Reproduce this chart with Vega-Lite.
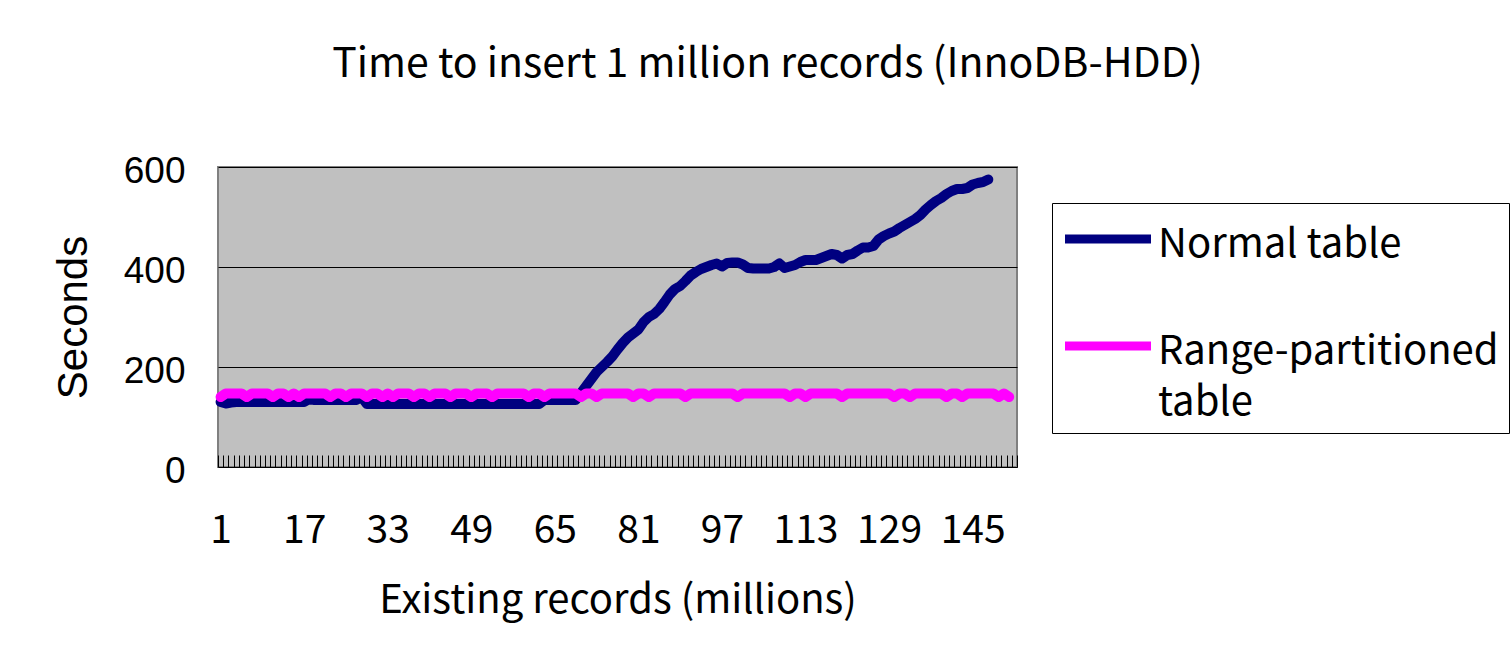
{
  "$schema": "https://vega.github.io/schema/vega-lite/v6.json",
  "width": 799,
  "height": 300,
  "autosize": "none",
  "padding": {"left": 218, "top": 167, "right": 495, "bottom": 193},
  "background": "white",
  "title": {"text": "Time to insert 1 million records (InnoDB-HDD)", "font": "Noto Sans CJK JP", "fontSize": 41, "fontWeight": "normal", "color": "black", "anchor": "middle", "dx": 150, "offset": 66},
  "config": {"view": {"fill": "#C0C0C0", "stroke": "#808080", "strokeWidth": 2}},
  "data": {"values": [
    {"x":1,"normal":130,"range":140},{"x":2,"normal":127,"range":147},{"x":3,"normal":129,"range":147},{"x":4,"normal":130,"range":147},{"x":5,"normal":130,"range":147},
    {"x":6,"normal":130,"range":140},{"x":7,"normal":130,"range":147},{"x":8,"normal":130,"range":147},{"x":9,"normal":130,"range":147},{"x":10,"normal":130,"range":147},
    {"x":11,"normal":130,"range":140},{"x":12,"normal":130,"range":147},{"x":13,"normal":130,"range":147},{"x":14,"normal":130,"range":140},{"x":15,"normal":130,"range":147},
    {"x":16,"normal":130,"range":140},{"x":17,"normal":130,"range":147},{"x":18,"normal":136,"range":147},{"x":19,"normal":134,"range":147},{"x":20,"normal":134,"range":147},
    {"x":21,"normal":134,"range":147},{"x":22,"normal":134,"range":140},{"x":23,"normal":134,"range":147},{"x":24,"normal":134,"range":147},{"x":25,"normal":134,"range":140},
    {"x":26,"normal":134,"range":147},{"x":27,"normal":134,"range":147},{"x":28,"normal":140,"range":147},{"x":29,"normal":126,"range":140},{"x":30,"normal":126,"range":147},
    {"x":31,"normal":126,"range":147},{"x":32,"normal":126,"range":140},{"x":33,"normal":126,"range":147},{"x":34,"normal":126,"range":140},{"x":35,"normal":126,"range":147},
    {"x":36,"normal":126,"range":147},{"x":37,"normal":126,"range":147},{"x":38,"normal":126,"range":140},{"x":39,"normal":126,"range":147},{"x":40,"normal":126,"range":147},
    {"x":41,"normal":126,"range":140},{"x":42,"normal":126,"range":147},{"x":43,"normal":126,"range":147},{"x":44,"normal":126,"range":147},{"x":45,"normal":126,"range":140},
    {"x":46,"normal":126,"range":147},{"x":47,"normal":126,"range":147},{"x":48,"normal":126,"range":147},{"x":49,"normal":126,"range":140},{"x":50,"normal":126,"range":147},
    {"x":51,"normal":126,"range":147},{"x":52,"normal":126,"range":147},{"x":53,"normal":126,"range":140},{"x":54,"normal":126,"range":147},{"x":55,"normal":126,"range":147},
    {"x":56,"normal":126,"range":147},{"x":57,"normal":126,"range":147},{"x":58,"normal":126,"range":147},{"x":59,"normal":126,"range":147},{"x":60,"normal":126,"range":140},
    {"x":61,"normal":126,"range":147},{"x":62,"normal":126,"range":147},{"x":63,"normal":134,"range":140},{"x":64,"normal":134,"range":147},{"x":65,"normal":134,"range":147},
    {"x":66,"normal":134,"range":147},{"x":67,"normal":134,"range":147},{"x":68,"normal":134,"range":147},{"x":69,"normal":134,"range":147},{"x":70,"normal":148,"range":140},
    {"x":71,"normal":162,"range":147},{"x":72,"normal":176,"range":147},{"x":73,"normal":190,"range":140},{"x":74,"normal":200,"range":147},{"x":75,"normal":210,"range":147},
    {"x":76,"normal":221,"range":147},{"x":77,"normal":235,"range":147},{"x":78,"normal":248,"range":147},{"x":79,"normal":259,"range":147},{"x":80,"normal":267,"range":140},
    {"x":81,"normal":275,"range":147},{"x":82,"normal":290,"range":147},{"x":83,"normal":300,"range":140},{"x":84,"normal":306,"range":147},{"x":85,"normal":316,"range":147},
    {"x":86,"normal":330,"range":147},{"x":87,"normal":345,"range":147},{"x":88,"normal":356,"range":147},{"x":89,"normal":362,"range":147},{"x":90,"normal":372,"range":140},
    {"x":91,"normal":383,"range":147},{"x":92,"normal":390,"range":147},{"x":93,"normal":396,"range":147},{"x":94,"normal":400,"range":147},{"x":95,"normal":404,"range":147},
    {"x":96,"normal":407,"range":147},{"x":97,"normal":401,"range":147},{"x":98,"normal":408,"range":147},{"x":99,"normal":409,"range":147},{"x":100,"normal":409,"range":140},
    {"x":101,"normal":405,"range":147},{"x":102,"normal":398,"range":147},{"x":103,"normal":397,"range":147},{"x":104,"normal":397,"range":147},{"x":105,"normal":397,"range":147},
    {"x":106,"normal":397,"range":147},{"x":107,"normal":400,"range":147},{"x":108,"normal":407,"range":147},{"x":109,"normal":398,"range":147},{"x":110,"normal":401,"range":140},
    {"x":111,"normal":404,"range":147},{"x":112,"normal":410,"range":147},{"x":113,"normal":414,"range":140},{"x":114,"normal":414,"range":147},{"x":115,"normal":414,"range":147},
    {"x":116,"normal":418,"range":147},{"x":117,"normal":422,"range":147},{"x":118,"normal":426,"range":147},{"x":119,"normal":424,"range":147},{"x":120,"normal":417,"range":140},
    {"x":121,"normal":424,"range":147},{"x":122,"normal":426,"range":147},{"x":123,"normal":433,"range":147},{"x":124,"normal":439,"range":147},{"x":125,"normal":439,"range":147},
    {"x":126,"normal":442,"range":147},{"x":127,"normal":455,"range":147},{"x":128,"normal":462,"range":147},{"x":129,"normal":467,"range":147},{"x":130,"normal":471,"range":140},
    {"x":131,"normal":478,"range":147},{"x":132,"normal":484,"range":147},{"x":133,"normal":490,"range":140},{"x":134,"normal":496,"range":147},{"x":135,"normal":504,"range":147},
    {"x":136,"normal":515,"range":147},{"x":137,"normal":524,"range":147},{"x":138,"normal":532,"range":147},{"x":139,"normal":538,"range":147},{"x":140,"normal":546,"range":140},
    {"x":141,"normal":552,"range":147},{"x":142,"normal":556,"range":147},{"x":143,"normal":556,"range":140},{"x":144,"normal":558,"range":147},{"x":145,"normal":565,"range":147},
    {"x":146,"normal":568,"range":147},{"x":147,"normal":570,"range":147},{"x":148,"normal":575,"range":147},{"x":149,"range":147},{"x":150,"range":140},
    {"x":151,"range":147},{"x":152,"range":140}
  ]},
  "transform": [
    {"fold": ["normal", "range"], "as": ["key", "seconds"]},
    {"filter": "isValid(datum.seconds)"},
    {"lookup": "key", "from": {"data": {"values": [{"key": "normal", "series": "Normal table"}, {"key": "range", "series": "Range-partitioned table"}]}, "key": "key", "fields": ["series"]}}
  ],
  "mark": {"type": "line", "strokeWidth": 10, "strokeCap": "round", "strokeJoin": "round"},
  "encoding": {
    "x": {
      "field": "x", "type": "quantitative",
      "scale": {"domain": [0.5, 153.5], "nice": false, "zero": false},
      "axis": {
        "values": [1,17,33,49,65,81,97,113,129,145,0.5,1.5,2.5,3.5,4.5,5.5,6.5,7.5,8.5,9.5,10.5,11.5,12.5,13.5,14.5,15.5,16.5,17.5,18.5,19.5,20.5,21.5,22.5,23.5,24.5,25.5,26.5,27.5,28.5,29.5,30.5,31.5,32.5,33.5,34.5,35.5,36.5,37.5,38.5,39.5,40.5,41.5,42.5,43.5,44.5,45.5,46.5,47.5,48.5,49.5,50.5,51.5,52.5,53.5,54.5,55.5,56.5,57.5,58.5,59.5,60.5,61.5,62.5,63.5,64.5,65.5,66.5,67.5,68.5,69.5,70.5,71.5,72.5,73.5,74.5,75.5,76.5,77.5,78.5,79.5,80.5,81.5,82.5,83.5,84.5,85.5,86.5,87.5,88.5,89.5,90.5,91.5,92.5,93.5,94.5,95.5,96.5,97.5,98.5,99.5,100.5,101.5,102.5,103.5,104.5,105.5,106.5,107.5,108.5,109.5,110.5,111.5,112.5,113.5,114.5,115.5,116.5,117.5,118.5,119.5,120.5,121.5,122.5,123.5,124.5,125.5,126.5,127.5,128.5,129.5,130.5,131.5,132.5,133.5,134.5,135.5,136.5,137.5,138.5,139.5,140.5,141.5,142.5,143.5,144.5,145.5,146.5,147.5,148.5,149.5,150.5,151.5,152.5,153.5],
        "labelExpr": "datum.value % 1 == 0 ? datum.label : ''",
        "tickOpacity": {"condition": {"test": "datum.value % 1 != 0", "value": 1}, "value": 0},
        "tickSize": -12,
        "tickColor": "black",
        "tickWidth": 1,
        "domain": false,
        "grid": false,
        "labelOverlap": false,
        "labelFlush": false,
        "labelFont": "Noto Sans CJK JP",
        "labelFontSize": 39,
        "labelColor": "black",
        "labelPadding": 56,
        "title": "Existing records (millions)",
        "titleFont": "Noto Sans CJK JP",
        "titleFontSize": 40,
        "titleFontWeight": "normal",
        "titleColor": "black",
        "titlePadding": 30
      }
    },
    "y": {
      "field": "seconds", "type": "quantitative",
      "scale": {"domain": [0, 600], "nice": false},
      "axis": {
        "values": [0, 200, 400, 600],
        "domain": false,
        "ticks": false,
        "grid": true,
        "gridColor": "black",
        "gridWidth": 1,
        "gridOpacity": 1,
        "labelFont": "Liberation Sans",
        "labelFontSize": 37,
        "labelColor": "black",
        "labelPadding": 33,
        "labelOffset": 4,
        "title": "Seconds",
        "titleFont": "Liberation Sans",
        "titleFontSize": 42,
        "titleFontWeight": "normal",
        "titleColor": "black",
        "titlePadding": 28
      }
    },
    "color": {
      "field": "series", "type": "nominal",
      "scale": {"domain": ["Normal table", "Range-partitioned table"], "range": ["#000080", "#FF00FF"]},
      "legend": {
        "orient": "none",
        "legendX": 834,
        "legendY": 36,
        "title": null,
        "fillColor": "white",
        "strokeColor": "black",
        "padding": 10,
        "symbolType": "M-2,0H2",
        "symbolSize": 1849,
        "symbolStrokeWidth": 9,
        "symbolOffset": 20,
        "labelFont": "Noto Sans CJK JP",
        "labelFontSize": 40,
        "labelColor": "black",
        "labelOffset": 24,
        "labelLimit": 500,
        "rowPadding": 55,
        "labelBaseline": "top",
        "labelExpr": "datum.label == 'Range-partitioned table' ? ['Range-partitioned', 'table'] : datum.label",
        "encode": {"labels": {"update": {"dy": {"value": -14}, "lineHeight": {"value": 51}}}}
      }
    }
  }
}
